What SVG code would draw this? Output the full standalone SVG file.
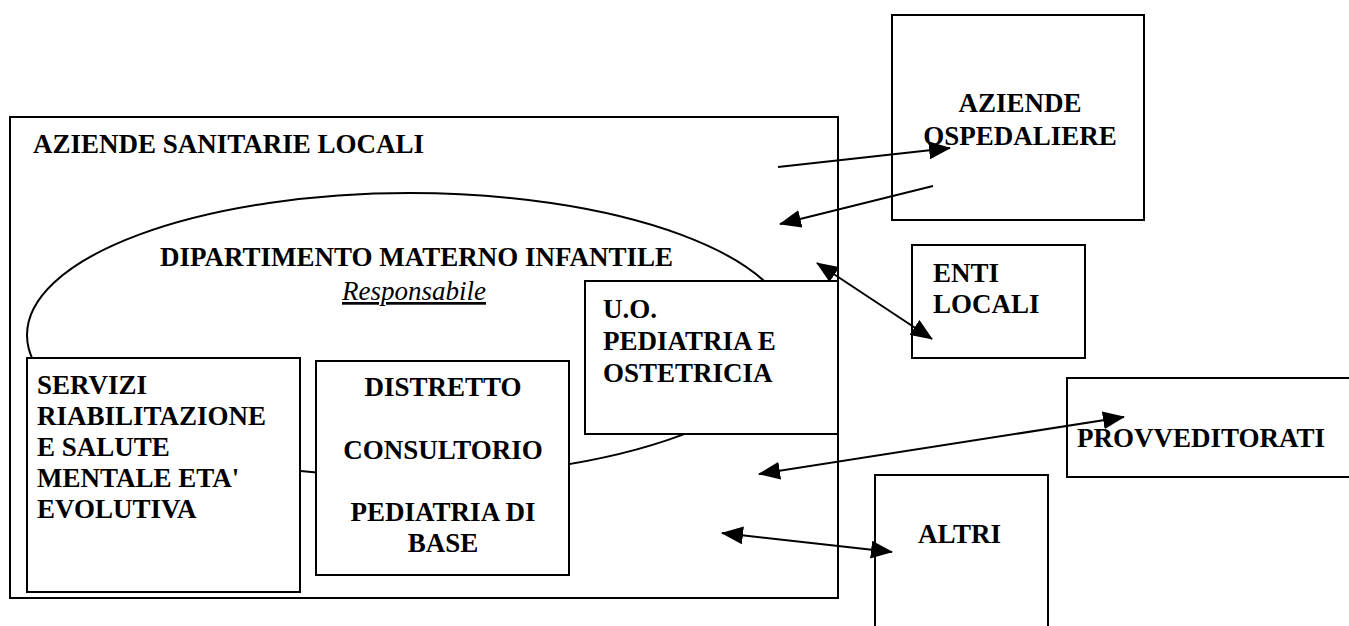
<svg xmlns="http://www.w3.org/2000/svg" width="1349" height="626" viewBox="0 0 1349 626">
  <style>
    .box { fill: #fff; stroke: #000; stroke-width: 2; }
    .lbl { font-family: "Liberation Serif", "Times New Roman", serif; font-weight: bold; font-size: 27px; fill: #000; }
    .mid { text-anchor: middle; }
    .it { font-family: "Liberation Serif", "Times New Roman", serif; font-style: italic; font-size: 27px; fill: #000; text-decoration: underline; }
    .link { fill: none; stroke: #000; stroke-width: 2; }
  </style>
  <defs>
    <marker id="head" markerUnits="userSpaceOnUse" markerWidth="22" markerHeight="18" refX="21" refY="9" orient="auto-start-reverse">
      <path d="M0,0 L22,9 L0,18 Z" fill="#000"/>
    </marker>
  </defs>
  <rect width="1349" height="626" fill="#fff"/>

  <!-- ASL container -->
  <g id="asl">
    <rect class="box" x="10" y="117" width="828" height="481"/>
    <text class="lbl" x="33" y="153">AZIENDE SANITARIE LOCALI</text>
  </g>

  <!-- maternal-child department -->
  <g id="dmi">
    <ellipse cx="410" cy="335" rx="383" ry="142" fill="none" stroke="#000" stroke-width="2"/>
    <text class="lbl" x="160" y="266">DIPARTIMENTO MATERNO INFANTILE</text>
    <text class="it" x="342" y="300">Responsabile</text>
  </g>

  <g id="servizi">
    <rect class="box" x="27" y="358" width="273" height="234"/>
    <text class="lbl" x="37" y="394">SERVIZI</text>
    <text class="lbl" x="37" y="425">RIABILITAZIONE</text>
    <text class="lbl" x="37" y="456">E SALUTE</text>
    <text class="lbl" x="37" y="487">MENTALE ETA'</text>
    <text class="lbl" x="37" y="518">EVOLUTIVA</text>
  </g>

  <g id="distretto">
    <rect class="box" x="316" y="361" width="253" height="214"/>
    <text class="lbl mid" x="443" y="396">DISTRETTO</text>
    <text class="lbl mid" x="443" y="459">CONSULTORIO</text>
    <text class="lbl mid" x="443" y="521">PEDIATRIA DI</text>
    <text class="lbl mid" x="443" y="552">BASE</text>
  </g>

  <g id="uo">
    <rect class="box" x="585" y="281" width="253" height="153"/>
    <text class="lbl" x="603" y="318">U.O.</text>
    <text class="lbl" x="603" y="350">PEDIATRIA E</text>
    <text class="lbl" x="603" y="382">OSTETRICIA</text>
  </g>

  <g id="ospedaliere">
    <rect class="box" x="892" y="15" width="252" height="205"/>
    <text class="lbl mid" x="1020" y="112">AZIENDE</text>
    <text class="lbl mid" x="1020" y="145">OSPEDALIERE</text>
  </g>

  <g id="enti">
    <rect class="box" x="912" y="245" width="173" height="113"/>
    <text class="lbl" x="933" y="282">ENTI</text>
    <text class="lbl" x="933" y="313">LOCALI</text>
  </g>

  <g id="provveditorati">
    <rect class="box" x="1067" y="378" width="290" height="99"/>
    <text class="lbl" x="1077" y="447">PROVVEDITORATI</text>
  </g>

  <g id="altri">
    <rect class="box" x="875" y="475" width="173" height="160"/>
    <text class="lbl" x="918" y="543">ALTRI</text>
  </g>

  <!-- connectors -->
  <g id="connectors">
    <line class="link" x1="778" y1="167" x2="950" y2="148" marker-end="url(#head)"/>
    <line class="link" x1="933" y1="186" x2="780" y2="224" marker-end="url(#head)"/>
    <line class="link" x1="817" y1="263" x2="932" y2="339" marker-start="url(#head)" marker-end="url(#head)"/>
    <line class="link" x1="759" y1="474" x2="1124" y2="417" marker-start="url(#head)" marker-end="url(#head)"/>
    <line class="link" x1="722" y1="533" x2="892" y2="552" marker-start="url(#head)" marker-end="url(#head)"/>
  </g>
</svg>
